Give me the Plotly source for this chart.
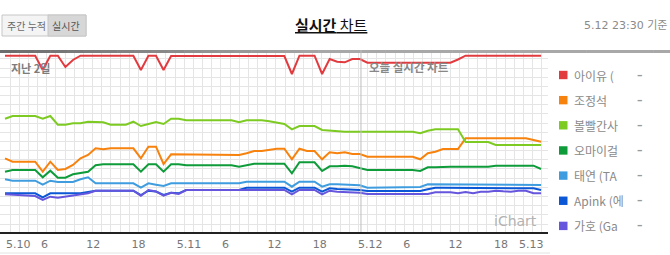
import plotly.graph_objects as go

# ---------------- data ----------------
t0 = 0.85  # first sample, hours after 5.10 00:00
hours = [t0 + k for k in range(72)]

names = ["아이유 (", "조정석", "볼빨간사", "오마이걸", "태연 (TA", "Apink (에", "가호 (Ga"]
colors = ["#e23b3f", "#f7820d", "#7dcb22", "#0e9b39", "#3f9ddf", "#0b57d5", "#6655dd"]

iu = [176.3, 176.3, 176.3, 176.3, 176.3, 162, 176.3, 176.3, 165, 172,
      176.3, 176.3, 176.3, 176.3, 176.3, 176.3, 176.3, 176.3, 162, 176.3,
      176.3, 162, 176, 176, 176, 176, 176, 176, 176, 176,
      176, 176, 176, 176, 176, 176, 176, 176, 158, 176.3,
      176.3, 176.3, 158, 173, 170.3, 169.7, 173, 173, 169.3, 169.3,
      169.3, 169.3, 169.3, 169.3, 169.3, 169.3, 169.3, 169.3, 169.3, 169.3,
      172.5, 176.3, 176.3, 176.3, 176.3, 176.3, 176.3, 176.3, 176.3, 176.3,
      176.3, 176.3]
jo = [73.7, 70.3, 70.3, 70.3, 70.3, 60.3, 70.3, 62, 63, 67,
      73.7, 77, 83.7, 82.7, 83.7, 83.7, 83.7, 83.7, 73.7, 85.3,
      85.3, 68, 77.7, 77.7, 77, 77, 77, 77, 77, 77,
      77, 77, 78.7, 81, 81, 82.5, 83.3, 83.3, 72.7, 83.3,
      81, 81, 72.7, 79.7, 78.7, 79.7, 78, 78, 75.3, 75.3,
      75.3, 75.3, 75.3, 75.3, 75.3, 72.7, 78.7, 80.3, 83, 83,
      83, 93.7, 93.7, 93.7, 93.7, 93.7, 93.7, 93.7, 93.7, 93.7,
      92, 90.3]
bol = [113.3, 116, 116, 116, 116, 113.3, 116, 107.3, 107.3, 108.7,
       108.7, 110.3, 109.7, 109.7, 107.3, 107.3, 107.3, 110.3, 106, 108,
       110, 108, 113.3, 113.3, 111.7, 111.7, 111.7, 111.7, 111.7, 111.7,
       111.7, 109.7, 111.7, 111.7, 111.7, 110.7, 109.5, 108, 102.7, 106,
       106, 106, 102, 101.3, 101, 100.3, 100.3, 100.3, 100.3, 100.3,
       100.3, 100.3, 100.3, 100.3, 100.3, 98.7, 101.3, 102.7, 102.7, 102.7,
       102.7, 90, 90, 90, 90, 87, 87, 87, 87, 87,
       87, 87]
omg = [60.3, 62, 62, 62, 62, 54.7, 61.3, 54.3, 54.3, 57.7,
       58.7, 60.3, 66.7, 67.7, 67.7, 67.7, 67.7, 67.7, 60.3, 67.7,
       67.7, 60.3, 67.7, 67.7, 66.7, 66.7, 66.7, 66.7, 66.7, 66.7,
       66.7, 65.3, 67, 68.3, 68.3, 68.3, 68.3, 68.3, 58.7, 69.7,
       69.7, 69.7, 61, 65.7, 65.7, 66.3, 65.7, 63.7, 62, 62,
       62, 62, 62, 62, 62, 61, 64.7, 64.7, 65.3, 65.3,
       65.3, 65.3, 65.3, 65.3, 65.3, 66.3, 66.3, 66.3, 66.3, 66.3,
       66.3, 63]
ty = [52.7, 51.3, 51.3, 51.3, 51.3, 47.3, 51.3, 50, 50, 50,
      52.7, 54.7, 48.7, 48.7, 48.7, 48.7, 48.7, 48.7, 44.3, 48.7,
      47.3, 46, 48.7, 48.7, 48.7, 48.7, 48.7, 48.7, 48.7, 48.7,
      48.7, 48.7, 50.3, 50.3, 50.3, 50.3, 50.3, 50.3, 45.3, 50.3,
      50.3, 50.3, 45.3, 47.7, 47.7, 47.5, 47, 46.7, 44.3, 44.3,
      44.3, 44.3, 44.3, 44.3, 44.3, 45, 47.7, 47.7, 47.7, 47.7,
      47.7, 47.7, 47.7, 47.7, 47.7, 47.7, 47.7, 47.7, 47.7, 47.7,
      47.7, 47]
apink = [38.7, 38.7, 38.7, 38.7, 38.7, 34.7, 38.7, 38.7, 38.7, 38.7,
         38.7, 40, 41.3, 41.3, 41.3, 41.3, 41.3, 41.3, 37, 41.3,
         40.5, 37, 39.3, 38.7, 42, 42, 42, 42, 42, 42,
         42, 42, 44.3, 44.3, 44.3, 44.3, 44.3, 44.3, 40.3, 44.3,
         44.3, 44.3, 40.3, 43.7, 43, 42.7, 42.4, 42, 41, 41,
         41, 41, 41, 41, 41, 41, 42.7, 44.3, 44.3, 44.3,
         44.3, 44.3, 44.3, 44.3, 44.3, 44.3, 43.7, 43.7, 43.7, 43.7,
         43.7, 42]
gaho = [37.7, 37.3, 37, 36, 36, 32, 35.3, 34.3, 35.3, 36,
        37, 38.7, 41.3, 41.3, 41.3, 41.3, 41.3, 41.3, 36.3, 42,
        40.5, 36.3, 39.3, 38, 42, 42, 42, 42, 42, 42,
        42, 42, 42, 42, 42, 42, 42, 42, 37.7, 42,
        42, 42, 37.7, 41.3, 40.3, 40, 39.7, 39.3, 38, 38,
        38, 38, 38, 38, 38, 38, 38, 39.7, 39.7, 39.7,
        38.7, 40, 38.7, 40.3, 40.3, 41.3, 40.7, 40.3, 41.3, 41.3,
        38.7, 38.7]
series = [iu, jo, bol, omg, ty, apink, gaho]

tick_hours = [6, 12, 18, 24, 30, 36, 42, 48, 54, 60, 66]
tick_text = ["6", "12", "18", "5.11", "6", "12", "18", "5.12", "6", "12", "18"]
first_label, last_label = "5.10", "5.13"
today_start = 48

# ---------------- layout helpers ----------------
W, H = 670, 255
ML, MR, MT, MB = 0, 122, 50, 23
PW = W - ML - MR
PH = H - MT - MB
FONT = "DejaVu Sans, Noto Sans CJK KR, sans-serif"
KFONT = "Noto Sans CJK KR, DejaVu Sans, sans-serif"


def fx(px):
    return (px - ML) / PW


def fy(py):
    return (H - MB - py) / PH


def label(text, x, y, xanchor="center", size=11, color="#777777", family=FONT,
          xref="paper", xshift=0):
    return dict(text=text, xref=xref, yref="paper", x=x, y=fy(y), xanchor=xanchor,
                yanchor="middle", xshift=xshift, showarrow=False,
                font=dict(family=family, size=size, color=color))


fig = go.Figure()
for nm, col, vals in zip(names, colors, series):
    fig.add_trace(go.Scatter(x=hours, y=vals, name=nm, mode="lines",
                             line=dict(color=col, width=2),
                             showlegend=False, hoverinfo="skip"))
# carrier for the background grid axes
fig.add_trace(go.Scatter(x=[None], y=[None], xaxis="x2", yaxis="y2",
                         showlegend=False, hoverinfo="skip"))

shapes = []
annotations = []

# top gray bar (gradient approximated by segments)
nseg = 40
for s in range(nseg):
    x0 = W * s / nseg
    x1 = W * (s + 1) / nseg
    f = min(1.0, (x0 + x1) / 2 / 330)
    g = int(108 + (168 - 108) * f)
    shapes.append(dict(type="rect", xref="paper", yref="paper",
                       x0=fx(x0), x1=fx(x1) + 0.001, y0=fy(53), y1=fy(50),
                       line=dict(width=0), fillcolor=f"rgb({g},{g},{g})", layer="above"))

# faint bottom border
shapes.append(dict(type="line", xref="paper", yref="paper", x0=fx(0), x1=fx(550),
                   y0=fy(253), y1=fy(253), line=dict(color="#e2e2e2", width=1)))

# header toggle
shapes.append(dict(type="rect", xref="paper", yref="paper", x0=fx(2), x1=fx(86),
                   y0=fy(36), y1=fy(15), line=dict(color="#c6c6c6", width=1),
                   fillcolor="#f4f4f4"))
shapes.append(dict(type="rect", xref="paper", yref="paper", x0=fx(48), x1=fx(86),
                   y0=fy(36), y1=fy(15), line=dict(color="#c6c6c6", width=1),
                   fillcolor="#d7d7d7"))
annotations.append(label("주간 누적", fx(26), 25.5, size=10, color="#6a6a6a", family=KFONT))
annotations.append(label("실시간", fx(66), 25.5, size=10, color="#555555", family=KFONT))

# title
annotations.append(label("<u><b>실시간</b> 차트</u>", fx(331), 24, size=15,
                         color="#111111", family=KFONT))
annotations.append(label("5.12 23:30 기준", fx(669), 25, xanchor="right", size=11,
                         color="#8a8a8a"))

# in-plot labels
annotations.append(label("<b>지난 2일</b>", fx(9), 68, xanchor="left", size=11,
                         color="#7c7c7c", family=KFONT))
annotations.append(label("<b>오늘 실시간 차트</b>", today_start, 66.5, xanchor="left",
                         size=11.5, color="#888888", family=KFONT, xref="x", xshift=6))
annotations.append(label("iChart", fx(539), 221, xanchor="right", size=14, color="#b3b3b3"))

# end axis labels
annotations.append(label(first_label, hours[0], 244, xanchor="left", xref="x", xshift=-1))
annotations.append(label(last_label, 1, 244, xanchor="right", xshift=-2))

# custom legend
for k, (nm, col) in enumerate(zip(names, colors)):
    cy = 75 + 25.15 * k
    shapes.append(dict(type="rect", xref="paper", yref="paper",
                       x0=fx(559), x1=fx(567.5), y0=fy(cy + 4.2), y1=fy(cy - 4.2),
                       line=dict(width=0), fillcolor=col))
    annotations.append(label(nm, fx(571.5), cy, xanchor="left", size=12,
                             color="#8a8a8a", family=KFONT))
    annotations.append(label("<b>–</b>", fx(640), cy, size=11, color="#9a9a9a"))

px_per_hour = 7.55
x_lo = hours[0] - 5 / px_per_hour
x_hi = hours[0] + (PW - 5) / px_per_hour

fig.update_layout(
    width=W, height=H, autosize=False,
    margin=dict(l=ML, r=MR, t=MT, b=MB, pad=0),
    paper_bgcolor="white", plot_bgcolor="white",
    font=dict(family=FONT, size=11, color="#777777"),
    showlegend=False,
    xaxis=dict(range=[x_lo, x_hi], tickmode="array", tickvals=tick_hours, ticktext=tick_text,
               ticklabelposition="outside right", ticklabelshift=-4, ticklabelstandoff=1,
               ticks="", showgrid=False, zeroline=False,
               showline=True, linecolor="#222222", linewidth=2,
               tickfont=dict(family=FONT, size=11, color="#777777"), fixedrange=True),
    yaxis=dict(range=[0, PH], visible=False, fixedrange=True),
    xaxis2=dict(overlaying="x", range=[0, PW], tickmode="linear", tick0=10, dtick=9.17,
                showgrid=True, gridcolor="#e5e5e5", gridwidth=1, showticklabels=False,
                ticks="", zeroline=False, showline=False, fixedrange=True),
    yaxis2=dict(overlaying="y", range=[0, PH], tickmode="linear", tick0=8, dtick=9.17,
                showgrid=True, gridcolor="#e5e5e5", gridwidth=1, showticklabels=False,
                ticks="", zeroline=False, showline=False, fixedrange=True),
    shapes=shapes,
    annotations=annotations,
)
fig.add_vline(x=today_start, line=dict(color="#bdbdbd", width=1))

fig.write_html("out.html", config={"displayModeBar": False})
